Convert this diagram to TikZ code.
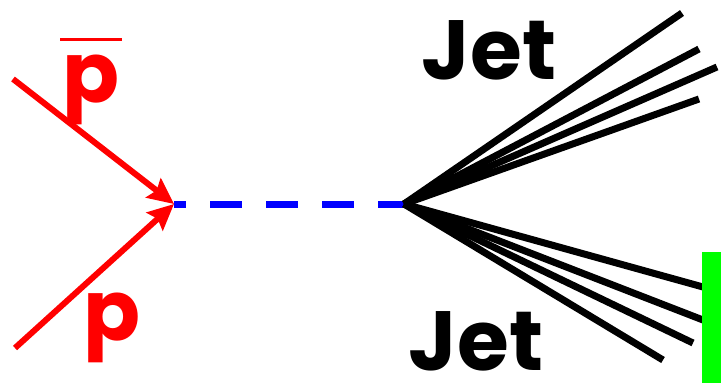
\documentclass[tikz,border=0pt]{standalone}
\usepackage{fontspec}
\setmainfont{Poppins}
\usepackage{xcolor}
\usepackage{tikz}
\usetikzlibrary{arrows.meta}

\begin{document}
\begin{tikzpicture}[x=1pt, y=-1pt,
    beam/.style={draw=red, line width=6pt, -{Stealth[length=26pt, width=24pt, inset=4pt]}},
    prop/.style={draw=blue, line width=7pt, dash pattern=on 32pt off 24pt, dash phase=20pt},
    jetline/.style={draw=black, line width=7pt},
    lbl/.style={font=\fontsize{84}{90}\selectfont\bfseries, inner sep=0pt, anchor=base}]
    \useasboundingbox (0,0) rectangle (721,383);

    % Vertices
    \coordinate (ann) at (174,204);
    \coordinate (hadr) at (404,204);

    % Incoming beams
    \coordinate (pbarin) at (13,79);
    \coordinate (pin) at (15,348);
    \draw[beam] (pbarin) -- (ann);
    \draw[beam] (pin) -- (ann);
    \node (pbar) [lbl, text=red] at (91,102) {\vbox{\hrule height 3pt\kern 13pt\hbox{\kern2pt p\kern2pt}}};
    \node (p) [lbl, text=red] at (112,340) {p};

    % Propagator
    \draw[prop] (ann) -- (hadr);

    % Upper jet
    \coordinate (u1) at (682,13);
    \coordinate (u2) at (699,49);
    \coordinate (u3) at (717,67);
    \coordinate (u4) at (699,99);
    \draw[jetline] (hadr) -- (u1);
    \draw[jetline] (hadr) -- (u2);
    \draw[jetline] (hadr) -- (u3);
    \draw[jetline] (hadr) -- (u4);

    % Lower jet
    \coordinate (d1) at (703,287);
    \coordinate (d2) at (703,320);
    \coordinate (d3) at (693,343);
    \coordinate (d4) at (663,360);
    \draw[jetline] (hadr) -- (d1);
    \draw[jetline] (hadr) -- (d2);
    \draw[jetline] (hadr) -- (d3);
    \draw[jetline] (hadr) -- (d4);

    % Detector
    \node (det) [fill=green, inner sep=0pt, minimum width=19pt, minimum height=131pt, anchor=north west] at (702,252) {};

    % Labels
    \node (jetup) [lbl] at (489,79) {Jet};
    \node (jetdown) [lbl] at (476,370) {Jet};
\end{tikzpicture}
\end{document}
